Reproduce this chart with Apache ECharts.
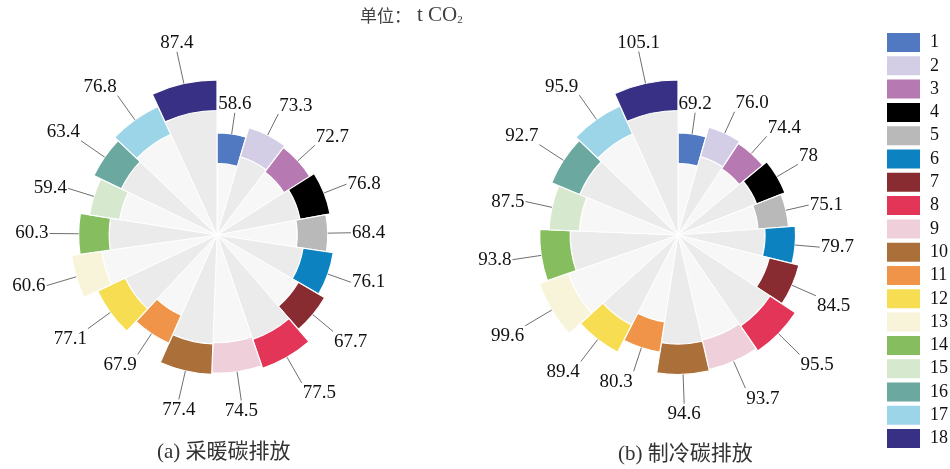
<!DOCTYPE html>
<html>
<head>
<meta charset="utf-8">
<title>采暖与制冷碳排放</title>
<script src="https://cdn.jsdelivr.net/npm/echarts@6/dist/echarts.min.js"></script>
<style>
  html, body { margin: 0; padding: 0; background: #ffffff; }
  #chart { width: 950px; height: 469px; }
</style>
</head>
<body>
<div id="chart"></div>
<script>
// Sector identifiers shown in the legend
const sectorNames = ['1', '2', '3', '4', '5', '6', '7', '8', '9', '10', '11', '12', '13', '14', '15', '16', '17', '18'];

// Heating emissions (t CO2), one per sector
const heatingCO2 = ['58.6', '73.3', '72.7', '76.8', '68.4', '76.1', '67.7', '77.5', '74.5',
                    '77.4', '67.9', '77.1', '60.6', '60.3', '59.4', '63.4', '76.8', '87.4'];

// Cooling emissions (t CO2), one per sector
const coolingCO2 = ['69.2', '76.0', '74.4', '78', '75.1', '79.7', '84.5', '95.5', '93.7',
                    '94.6', '80.3', '89.4', '99.6', '93.8', '87.5', '92.7', '95.9', '105.1'];

// Sector colours
const sectorColors = ['#5079c1', '#d3cde5', '#b679b2', '#000000', '#b9b9b9', '#0c82c1',
                      '#882c31', '#e23558', '#efcfd9', '#ab6f3a', '#ef9448', '#f6dd52',
                      '#f8f4d9', '#86bd5f', '#d6e8cd', '#6aa8a0', '#9cd5e8', '#383084'];

const panelTitles = ['(a) 采暖碳排放', '(b) 制冷碳排放'];

// ---- drawing parameters ----
const SERIF = "'Liberation Serif', 'Times New Roman', 'Noto Sans CJK SC', serif";
const BAND = 30.5;        // thickness of the coloured outer band, px
const LEADER = 1.21;      // leader line end, as a multiple of the sector radius value
const panelCenters = [[217, 235], [678, 235]];
const OUTER_RADIUS = 155;

const radiusValues = coolingCO2.map(Number);
const radiusMax = Math.max(...radiusValues);

const panels = [heatingCO2, coolingCO2].map(function (labels) {
  const values = labels.map(Number);
  const starts = [];
  let acc = 0;
  values.forEach(function (v) { starts.push(acc); acc += v; });
  return { labels: labels, values: values, starts: starts, total: acc };
});

function makeRenderer(panel, i) {
  return function (params, api) {
    const cs = params.coordSys;
    const rv = api.value(0);
    const a0 = api.value(1);
    const span = api.value(2);
    const pStart = api.coord([rv, a0]);
    const pEnd = api.coord([rv, a0 + span]);
    const rOut = pStart[2];
    const rIn = rOut - BAND;
    const mid = a0 + span / 2;
    const q0 = api.coord([rv, mid]);
    const q1 = api.coord([rv * LEADER, mid]);
    const dx = (q1[0] - cs.cx) / q1[2];
    const dy = (q1[1] - cs.cy) / q1[2];
    const align = dx > 0.3 ? 'left' : (dx < -0.3 ? 'right' : 'center');
    const vAlign = dy > 0.4 ? 'top' : (dy < -0.4 ? 'bottom' : 'middle');
    const tx = q1[0] + (align === 'left' ? 1 : align === 'right' ? -1 : 0);
    const ty = q1[1] + (vAlign === 'top' ? 1 : vAlign === 'bottom' ? 1 : 0);
    const sa = -pStart[3];
    const ea = -pEnd[3];
    return {
      type: 'group',
      children: [
        {
          type: 'sector',
          shape: { cx: cs.cx, cy: cs.cy, r0: 0, r: rIn, startAngle: sa, endAngle: ea, clockwise: true },
          style: { fill: i % 2 === 0 ? '#f7f7f7' : '#ebebeb', stroke: '#ffffff', lineWidth: 1 }
        },
        {
          type: 'sector',
          shape: { cx: cs.cx, cy: cs.cy, r0: rIn, r: rOut, startAngle: sa, endAngle: ea, clockwise: true },
          style: { fill: sectorColors[i], stroke: '#ffffff', lineWidth: 1.2 }
        },
        {
          type: 'line',
          shape: { x1: q0[0], y1: q0[1], x2: q1[0], y2: q1[1] },
          style: { stroke: '#4a4a4a', lineWidth: 0.8 }
        },
        {
          type: 'text',
          x: tx,
          y: ty,
          style: {
            text: panel.labels[i],
            fontFamily: SERIF,
            fontSize: 19,
            fill: '#111111',
            align: align,
            verticalAlign: vAlign
          }
        }
      ]
    };
  };
}

const series = [];
panels.forEach(function (panel, p) {
  sectorNames.forEach(function (name, i) {
    series.push({
      type: 'custom',
      name: name,
      coordinateSystem: 'polar',
      polarIndex: p,
      itemStyle: { color: sectorColors[i] },
      silent: true,
      renderItem: makeRenderer(panel, i),
      data: [[radiusValues[i], panel.starts[i], panel.values[i]]]
    });
  });
});

const option = {
  animation: false,
  backgroundColor: '#ffffff',
  title: [
    {
      text: '{cn|单位：}{en|t CO}{sub|2}',
      left: 360,
      top: 5,
      padding: 0,
      textStyle: {
        fontWeight: 'normal',
        rich: {
          cn: { fontFamily: "'Noto Sans CJK SC', sans-serif", fontSize: 17, fontWeight: 'normal', color: '#404040' },
          en: { fontFamily: SERIF, fontSize: 21, fontWeight: 'normal', color: '#404040', padding: [0, 0, 0, 6] },
          sub: { fontFamily: SERIF, fontSize: 11, fontWeight: 'normal', color: '#404040', padding: [10, 0, 0, 0] }
        }
      }
    },
    {
      text: panelTitles[0],
      left: 157,
      top: 442,
      padding: 0,
      textStyle: { fontFamily: SERIF, fontSize: 21, fontWeight: 'normal', color: '#333333' }
    },
    {
      text: panelTitles[1],
      left: 618,
      top: 444,
      padding: 0,
      textStyle: { fontFamily: SERIF, fontSize: 21, fontWeight: 'normal', color: '#333333' }
    }
  ],
  legend: {
    data: sectorNames,
    orient: 'vertical',
    left: 887,
    top: 33,
    padding: 0,
    icon: 'rect',
    itemWidth: 33,
    itemHeight: 19,
    itemGap: 4.3,
    selectedMode: false,
    textStyle: { fontFamily: SERIF, fontSize: 18, color: '#111111', padding: [0, 0, 0, 5] }
  },
  polar: panelCenters.map(function (c) {
    return { center: c, radius: OUTER_RADIUS };
  }),
  angleAxis: panels.map(function (panel, p) {
    return {
      polarIndex: p, type: 'value', min: 0, max: panel.total,
      startAngle: 90, clockwise: true, show: false
    };
  }),
  radiusAxis: panels.map(function (panel, p) {
    return { polarIndex: p, type: 'value', min: 0, max: radiusMax, show: false };
  }),
  series: series
};

const chart = echarts.init(document.getElementById('chart'), null, { renderer: 'canvas' });
chart.setOption(option);
</script>
</body>
</html>
